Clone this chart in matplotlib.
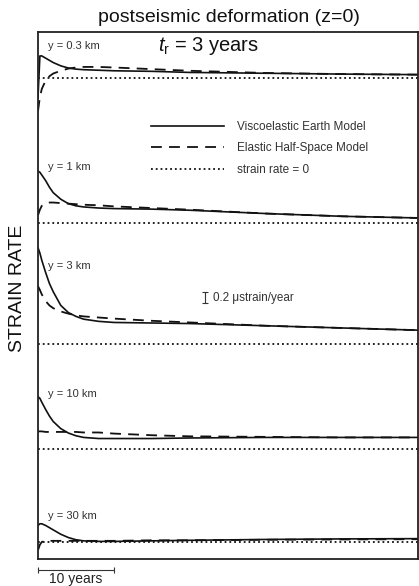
import matplotlib
matplotlib.use('Agg')
import matplotlib.pyplot as plt

plt.rcParams['font.family'] = ['Liberation Sans', 'DejaVu Sans']
plt.rcParams['mathtext.fontset'] = 'custom'
plt.rcParams['mathtext.it'] = 'Liberation Sans:italic'
plt.rcParams['mathtext.rm'] = 'Liberation Sans'

# czas po trzesieniu (lata)
TIME = [0, 0.25, 0.5, 1, 1.5, 2, 3, 4, 5, 6, 8, 10, 15, 20, 30, 40, 50]

DISTANCES = ['y = 0.3 km', 'y = 1 km', 'y = 3 km', 'y = 10 km', 'y = 30 km']

# predkosc odksztalcenia, mikrostrain/rok
VISCO = [
    [-0.35, 0.40, 0.40, 0.36, 0.32, 0.28, 0.22, 0.18, 0.16, 0.15, 0.14, 0.13, 0.12, 0.10, 0.085, 0.07, 0.06],
    [0.95, 0.93, 0.88, 0.78, 0.66, 0.56, 0.44, 0.36, 0.32, 0.30, 0.28, 0.27, 0.26, 0.24, 0.18, 0.13, 0.10],
    [1.75, 1.65, 1.52, 1.30, 1.10, 0.95, 0.70, 0.57, 0.50, 0.45, 0.41, 0.39, 0.38, 0.37, 0.33, 0.29, 0.25],
    [0.95, 0.92, 0.85, 0.72, 0.60, 0.50, 0.37, 0.29, 0.24, 0.21, 0.19, 0.19, 0.19, 0.20, 0.21, 0.21, 0.21],
    [0.30, 0.33, 0.33, 0.30, 0.26, 0.22, 0.14, 0.08, 0.04, 0.02, 0.01, 0.01, 0.02, 0.03, 0.045, 0.055, 0.06],
]
ELASTIC = [
    [-0.60, -0.35, -0.20, -0.05, 0.03, 0.08, 0.13, 0.17, 0.19, 0.20, 0.20, 0.19, 0.16, 0.13, 0.09, 0.07, 0.06],
    [0.15, 0.25, 0.32, 0.37, 0.38, 0.38, 0.37, 0.36, 0.35, 0.34, 0.33, 0.31, 0.28, 0.25, 0.18, 0.13, 0.10],
    [1.05, 0.98, 0.90, 0.78, 0.70, 0.65, 0.59, 0.55, 0.52, 0.50, 0.48, 0.46, 0.42, 0.39, 0.33, 0.29, 0.25],
    [0.32, 0.32, 0.32, 0.31, 0.31, 0.31, 0.31, 0.31, 0.31, 0.30, 0.30, 0.28, 0.25, 0.23, 0.22, 0.21, 0.21],
    [-0.15, -0.05, 0.00, 0.02, 0.02, 0.02, 0.02, 0.02, 0.02, 0.02, 0.02, 0.02, 0.03, 0.03, 0.04, 0.045, 0.05],
]

# uklad: przesuniecie pionowe kazdej krzywej i wysokosc podpisu nad nia
BASELINES = [8.745, 6.1, 3.91, 2.0, 0.31]
LABEL_LIFT = [0.58, 1.03, 1.42, 1.0, 0.47]

fig = plt.figure(figsize=(4.19, 5.86), dpi=100)
ax = fig.add_axes([38 / 419, 27 / 586, 379.5 / 419, 527 / 586])

for i in range(5):
    b = BASELINES[i]
    ax.plot(TIME, [v + b for v in VISCO[i]], color='#111111', lw=1.2,
            label='Viscoelastic Earth Model' if i == 0 else None)
    ax.plot(TIME, [v + b for v in ELASTIC[i]], color='#111111', lw=1.3, dashes=(6, 4),
            label='Elastic Half-Space Model' if i == 0 else None)
    ax.axhline(b, color='#111111', lw=1.3, ls=':',
               label='strain rate = 0' if i == 0 else None)
    ax.text(1.3, b + LABEL_LIFT[i], DISTANCES[i], fontsize=8,
            color='#333333', va='center')

ax.set_xlim(0, 50)
ax.set_ylim(0, 9.58)
ax.set_xticks([])
ax.set_yticks([])
for s in ax.spines.values():
    s.set_linewidth(1.3)
    s.set_color('#222222')

ax.legend(loc='upper left', bbox_to_anchor=(151 / 419, 1 - 121 / 586),
          bbox_transform=fig.transFigure, frameon=False, fontsize=8.5,
          handlelength=6.2, handletextpad=1.1, labelspacing=0.8,
          borderpad=0, borderaxespad=0, labelcolor='#333333')

# skala 0.2 mikrostrain/rok
ax.errorbar([22], [4.75], yerr=[0.1], color='#333333', lw=0.8, capsize=2, capthick=0.8)
ax.text(23.0, 4.75, '0.2 \u03bcstrain/year', fontsize=8.4, va='center', color='#333333')

# skala 10 lat
eb = ax.errorbar([5], [-0.2], xerr=[5], color='#333333', lw=0.8, capsize=2.5, capthick=0.8)
for a in eb.lines[0:1] + tuple(eb.lines[1]) + tuple(eb.lines[2]):
    if a is not None:
        a.set_clip_on(False)
ax.text(4.9, -0.37, '10 years', fontsize=10, ha='center', va='center', color='#222222')

ax.text(15.8, 9.33, r'$t_\mathrm{r}$ = 3 years', fontsize=14.5, va='center', color='#111111')
fig.text(229 / 419, 1 - 17 / 586, 'postseismic deformation (z=0)', fontsize=14,
         ha='center', va='center', color='#111111')
fig.text(17 / 419, 1 - 288 / 586, 'STRAIN RATE', fontsize=14, rotation=90,
         ha='center', va='center', color='#111111')

fig.savefig('out.png', dpi=100)
